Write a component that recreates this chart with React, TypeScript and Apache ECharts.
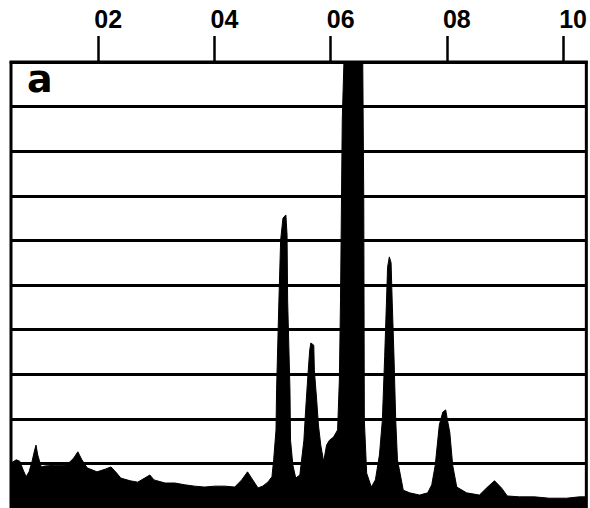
import React, { useEffect, useRef } from "react";
import * as echarts from "echarts";

// Spectrum trace: x positions and intensities
const traceX: number[] = [
  0.5, 0.53, 0.59, 0.65, 0.71, 0.76, 0.81, 0.86, 0.9, 0.93, 0.96, 1.02, 1.08, 1.26, 1.43, 1.51, 1.58, 1.65, 1.72, 1.81,
  1.98, 2.12, 2.22, 2.3, 2.39, 2.55, 2.68, 2.8, 2.89, 2.96, 3.15, 3.32, 3.49, 3.66, 3.83, 4.01, 4.18, 4.35, 4.47, 4.57,
  4.66, 4.75, 4.83, 4.92, 4.99,
  5.02, 5.06, 5.07, 5.11, 5.14, 5.18, 5.23, 5.25, 5.26, 5.3, 5.31, 5.35,
  5.4, 5.47, 5.54, 5.57, 5.61, 5.64, 5.66, 5.71, 5.72, 5.76, 5.79,
  5.83, 5.88, 5.93, 5.98, 6.05, 6.12, 6.15, 6.17, 6.2, 6.24, 6.55, 6.57, 6.58, 6.62, 6.7,
  6.77, 6.84, 6.89, 6.93, 6.96, 6.98, 7.01, 7.04, 7.06, 7.09, 7.12, 7.15, 7.2, 7.25, 7.36, 7.53, 7.67, 7.74, 7.8, 7.87,
  7.93, 7.98, 8.01, 8.05, 8.1, 8.17, 8.34, 8.56, 8.7, 8.82, 8.94, 9.04, 9.25, 9.51, 9.76, 10.06, 10.28, 10.4,
];
const traceY: number[] = [
  1.01, 1.03, 1.08, 1.05, 0.85, 0.7, 0.81, 1.03, 1.26, 1.41, 1.19, 0.92, 0.94, 0.96, 0.96, 1.03, 1.12, 1.26, 1.08, 0.9,
  0.81, 0.87, 0.92, 0.81, 0.67, 0.61, 0.58, 0.67, 0.74, 0.63, 0.56, 0.56, 0.52, 0.49, 0.47, 0.49, 0.49, 0.47, 0.63, 0.81,
  0.63, 0.45, 0.49, 0.58, 0.7,
  1.08, 1.75, 2.65, 4.66, 6.01, 6.5, 6.57, 6.12, 4.66, 2.65, 1.52, 0.96,
  0.67, 0.74, 1.52, 2.2, 3.0, 3.54, 3.7, 3.65, 3.09, 2.42, 1.86,
  1.41, 1.04, 1.41, 1.52, 1.59, 1.75, 2.87, 4.66, 8.7, 10.5, 10.5, 6.91, 1.97, 0.78, 0.47,
  0.63, 1.19, 1.97, 3.4, 4.6, 5.4, 5.63, 5.5, 4.6, 3.4, 1.97, 1.08, 0.74, 0.4, 0.34, 0.29, 0.34, 0.52, 0.96, 1.86,
  2.15, 2.2, 1.97, 1.7, 0.96, 0.47, 0.34, 0.29, 0.47, 0.61, 0.45, 0.27, 0.25, 0.25, 0.22, 0.22, 0.25, 0.25,
];
const tickValues: number[] = [2, 4, 6, 8, 10];
const tickLabels: string[] = ["02", "04", "06", "08", "10"];
const panelLabel = "a";

export default function App() {
  const ref = useRef<HTMLDivElement>(null);
  useEffect(() => {
    document.body.style.margin = "0";
    if (!ref.current) return;
    const chart = echarts.init(ref.current, undefined, { renderer: "svg" });
    const data = traceX.map((x, i) => [x, traceY[i]]);
    chart.setOption({
      animation: false,
      backgroundColor: "#fff",
      title: {
        text: panelLabel,
        left: 27,
        top: 60,
        padding: 0,
        textStyle: { fontFamily: "DejaVu Sans", fontWeight: "bold", fontSize: 38, color: "#000" },
      },
      grid: {
        left: 11,
        right: 3,
        top: 62,
        height: 446,
        show: true,
        borderColor: "#000",
        borderWidth: 3,
        backgroundColor: "transparent",
      },
      xAxis: {
        type: "value",
        position: "top",
        min: 0.5,
        max: 10.4,
        axisLine: { show: true, onZero: false, lineStyle: { color: "#000", width: 3 } },
        axisTick: {
          show: true,
          customValues: tickValues,
          length: 26,
          lineStyle: { color: "#000", width: 2.5 },
        },
        axisLabel: {
          show: true,
          customValues: tickValues,
          margin: 31,
          padding: [0, 0, 0, 20],
          color: "#000",
          fontFamily: "Liberation Sans",
          fontWeight: "bold",
          fontSize: 25,
          formatter: (v: number) => tickLabels[tickValues.indexOf(v)] ?? "",
        },
        splitLine: { show: false },
      },
      yAxis: {
        type: "value",
        min: 0,
        max: 10,
        interval: 1,
        axisLine: { show: false },
        axisTick: { show: false },
        axisLabel: { show: false },
        splitLine: { show: true, lineStyle: { color: "#000", width: 3 } },
      },
      series: [
        {
          type: "line",
          data,
          symbol: "none",
          smooth: false,
          clip: true,
          lineStyle: { color: "#000", width: 1 },
          areaStyle: { color: "#000", opacity: 1 },
          itemStyle: { color: "#000" },
        },
      ],
    });
    return () => chart.dispose();
  }, []);
  return <div ref={ref} style={{ width: 590, height: 508 }} />;
}
